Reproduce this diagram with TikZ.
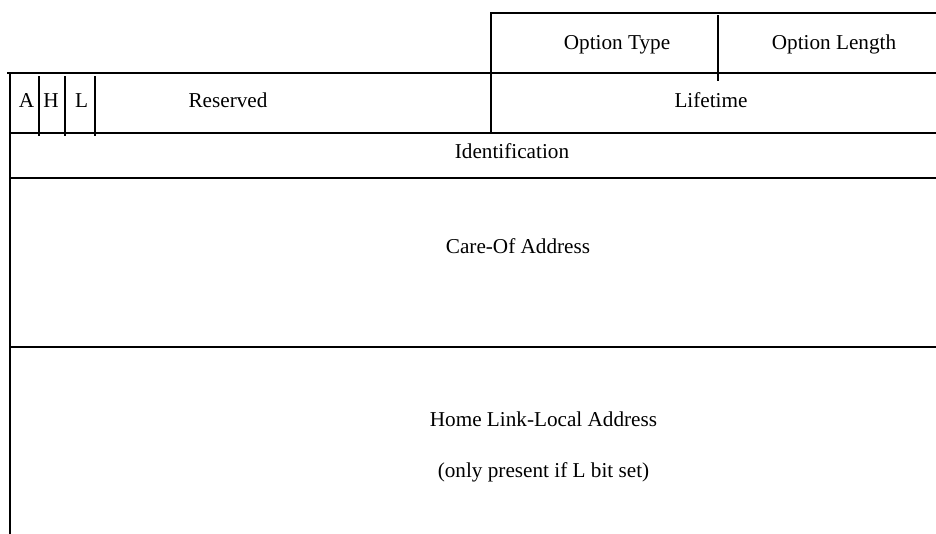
\documentclass[tikz,border=0pt]{standalone}
\usepackage{fontspec}
\setmainfont{Liberation Serif}
\begin{document}
\begin{tikzpicture}[x=1pt,y=-1pt,
  rule/.style={line width=1.8pt,line cap=rect,black},
  lbl/.style={anchor=base,inner sep=0pt,font=\fontsize{21.2}{25}\selectfont}]
\useasboundingbox (0,0) rectangle (936,534);
% frame lines
\draw[rule] (491,13) -- (936,13);
\draw[rule] (491,13) -- (491,133);
\draw[rule] (718,16) -- (718,80);
\draw[rule] (8,73) -- (936,73);
\draw[rule] (10,73) -- (10,534);
\draw[rule] (39,77) -- (39,135);
\draw[rule] (65,77) -- (65,135);
\draw[rule] (95,77) -- (95,135);
\draw[rule] (10,133) -- (936,133);
\draw[rule] (10,178) -- (936,178);
\draw[rule] (10,347) -- (936,347);
% labels
\node[lbl] (otype) at (617,50) {Option Type};
\node[lbl] (olen) at (834,50) {Option Length};
\node[lbl] (a) at (26.5,108) {A};
\node[lbl] (h) at (51,108) {H};
\node[lbl] (l) at (81.5,108) {L};
\node[lbl] (res) at (228,108) {Reserved};
\node[lbl] (life) at (711,108) {Lifetime};
\node[lbl] (ident) at (512,159) {Identification};
\node[lbl] (coa) at (518,254) {Care-Of Address};
\node[lbl] (hla) at (543.5,426) {Home Link-Local Address};
\node[lbl] (only) at (543.5,477) {(only present if L bit set)};
\end{tikzpicture}
\end{document}
